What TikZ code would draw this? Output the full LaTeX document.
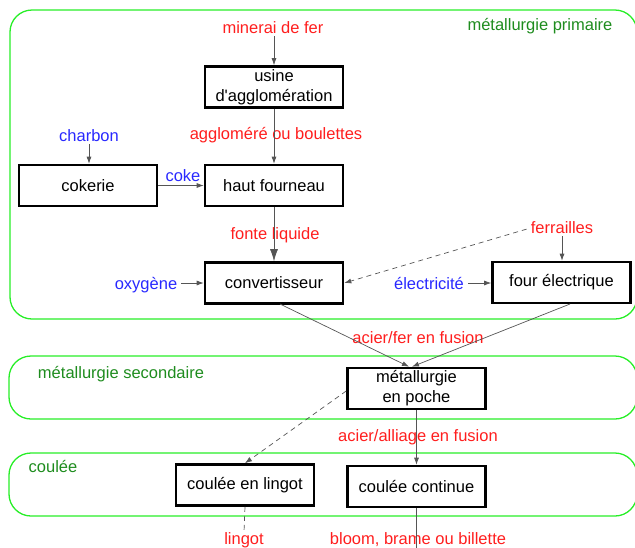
\documentclass[tikz,border=0pt]{standalone}
\usepackage{fontspec}
\setmainfont{Liberation Sans}
\usepackage{xcolor}
\usepackage{tikz}
\usetikzlibrary{arrows.meta,positioning}

\definecolor{zonegreen}{RGB}{40,238,40}
\definecolor{zonetext}{RGB}{30,140,30}
\definecolor{prodred}{RGB}{255,30,30}
\definecolor{inblue}{RGB}{40,40,255}
\definecolor{flowgray}{RGB}{85,85,85}

\begin{document}
\begin{tikzpicture}[x=1pt, y=-1pt,
    every node/.style={font=\fontsize{16.5}{19}\selectfont},
    stage/.style={rectangle, draw, line width=2.6pt, minimum height=41pt, minimum width=138pt, align=center, inner sep=1pt},
    zone/.style={draw=zonegreen, line width=1.3pt, rounded corners=22pt},
    zonelabel/.style={text=zonetext, anchor=base},
    prod/.style={text=prodred, anchor=base, inner sep=0pt},
    input/.style={text=inblue, anchor=base, inner sep=0pt},
    flow/.style={draw=flowgray, line width=0.7pt, -{Latex[length=7pt,width=5pt]}},
    loose/.style={draw=flowgray, line width=0.7pt, dashed, dash pattern=on 5pt off 4pt}]
    \useasboundingbox (0,0) rectangle (635,547);
    \clip (0,0) rectangle (635,547);

    % zones
    \draw [zone] (10,10) rectangle (637,319);
    \draw [zone] (9,356) rectangle (637,419);
    \draw [zone] (9,453) rectangle (637,516);
    \node (lprim) [zonelabel] at (540,30) {métallurgie primaire};
    \node (lsec) [zonelabel] at (121,378) {métallurgie secondaire};
    \node (lcoul) [zonelabel] at (53,472) {coulée};

    % stages
    \node (usine) [stage] at (274,87) {usine\\[1pt]d\textquotesingle agglomération};
    \node (fourneau) [stage] at (274,185.5) {haut fourneau};
    \node (cokerie) [stage] at (88,185.5) {cokerie};
    \node (conv) [stage] at (274,283) {convertisseur};
    \node (four) [stage] at (561.5,282.5) {four électrique};
    \node (poche) [stage] at (416.5,388.5) {métallurgie\\[1pt]en poche};
    \node (lingot) [stage] at (245,485) {coulée en lingot};
    \node (continue) [stage] at (416.5,486.5) {coulée continue};

    % matieres
    \node (minerai) [prod] at (273,33) {minerai de fer};
    \node (agglo) [prod] at (276,139) {aggloméré ou boulettes};
    \node (charbon) [input] at (89,141) {charbon};
    \node (coke) [input] at (183,181) {coke};
    \node (fonte) [prod] at (275,239) {fonte liquide};
    \node (ferraille) [prod] at (562,233) {ferrailles};
    \node (oxygene) [input] at (146,289) {oxygène};
    \node (elec) [input] at (429,289) {électricité};
    \node (fusion) [prod] at (418,343) {acier/fer en fusion};
    \node (alliage) [prod] at (418,441) {acier/alliage en fusion};
    \node (plingot) [prod] at (244,544) {lingot};
    \node (bloom) [prod] at (418,544) {bloom, brame ou billette};
    \coordinate (fin) at (416.5,560);

    \draw [flow] (minerai.south -| usine) ++(0,3) -- (usine.north);
    \draw [flow] (usine) -- (fourneau);
    \draw [flow] (charbon.south) ++(0,3) -- (cokerie.north -| charbon);
    \draw [flow] (cokerie) -- (fourneau);
    \draw [flow, -{Latex[length=12pt,width=8pt]}] (fourneau) -- (conv);
    \draw [flow] (oxygene.east |- 0,283) ++(4,0) -- (conv.west |- 0,283);
    \draw [flow, dashed, dash pattern=on 5pt off 4pt] (ferraille.west) ++(-4,2) -- (conv.east |- 0,283);
    \draw [flow] (ferraille.south) ++(0,3) -- (four.north -| ferraille);
    \draw [flow] (elec.east |- 0,283) ++(4,0) -- (four.west |- 0,283);
    \draw [flow] (280,304) -- (poche.north -| 409,0);
    \draw [flow] (570,304) -- (poche.north -| 412,0);
    \draw [flow] (poche) -- (continue);
    \draw [flow, dashed, dash pattern=on 5pt off 4pt] (poche.west |- 0,391) -- (lingot.north);
    \draw [loose] (lingot.south) -- (plingot.north);
    \draw [draw=flowgray, line width=0.7pt] (continue.south) -- (fin);
\end{tikzpicture}
\end{document}
